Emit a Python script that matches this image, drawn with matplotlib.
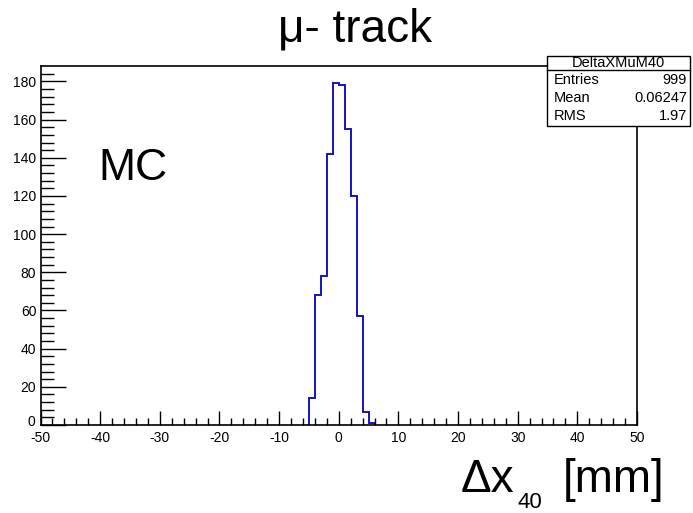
import numpy as np
import matplotlib
matplotlib.use("Agg")
import matplotlib.pyplot as plt
import matplotlib.transforms as mtransforms
from matplotlib.patches import Rectangle
from matplotlib.lines import Line2D
from matplotlib.ticker import MultipleLocator

# Data
bin_edges = [-5, -4, -3, -2, -1, 0, 1, 2, 3, 4, 5, 6]
counts = [14, 68, 78, 142, 179, 178, 155, 120, 57, 7, 1]
hist_name = "DeltaXMuM40"
stat_labels = ["Entries", "Mean", "RMS"]
stat_values = ["999", "0.06247", "1.97"]
title = "μ- track"

W, H = 693, 513
plt.rcParams['font.family'] = ['Liberation Sans', 'DejaVu Sans']
plt.rcParams['axes.unicode_minus'] = False
fig = plt.figure(figsize=(W / 100, H / 100), dpi=100)

def fx(px):
    return px / W

def fy(py):
    return 1 - py / H

ax = fig.add_axes([fx(40.5), fy(425), fx(637) - fx(40.5), fy(66.3) - fy(425)])
ax.stairs(counts, bin_edges, color='#1414c0', linewidth=1.4, baseline=0)
ax.set_xlim(-50, 50)
ax.set_ylim(0, 1.05 * max(counts))

ax.xaxis.set_major_locator(MultipleLocator(10))
ax.xaxis.set_minor_locator(MultipleLocator(2))
ax.yaxis.set_major_locator(MultipleLocator(20))
ax.yaxis.set_minor_locator(MultipleLocator(4))
ax.tick_params(axis='x', which='major', direction='in', length=10, width=1,
               labelsize=10, pad=4, top=False)
ax.tick_params(axis='x', which='minor', direction='in', length=5, width=1, top=False)
ax.tick_params(axis='y', which='major', direction='in', length=18, width=1,
               labelsize=10, pad=3, right=False)
ax.tick_params(axis='y', which='minor', direction='in', length=9, width=1, right=False)
for s in ax.spines.values():
    s.set_linewidth(1.2)

# nudge the y "0" label up a little, as ROOT draws it
fig.canvas.draw()
for lbl in ax.get_yticklabels():
    if lbl.get_text() == '0':
        lbl.set_transform(lbl.get_transform() +
                          mtransforms.ScaledTranslation(-1 / 100, 4 / 100, fig.dpi_scale_trans))

# Title
fig.text(fx(355), fy(42), title, ha='center', va='baseline', fontsize=33)
# MC label
fig.text(fx(98), fy(180), "MC", ha='left', va='baseline', fontsize=32)
# x-axis label
fig.text(fx(461), fy(492), "Δx", ha='left', va='baseline', fontsize=33)
fig.text(fx(518), fy(508), "40", ha='left', va='baseline', fontsize=16)
fig.text(fx(563), fy(492), "[mm]", ha='left', va='baseline', fontsize=33)

# Stats box
bl, br, bt, bb = 547.3, 690, 56, 126
fig.add_artist(Rectangle((fx(bl), fy(bb)), fx(br) - fx(bl), fy(bt) - fy(bb),
                         transform=fig.transFigure, facecolor='white',
                         edgecolor='black', linewidth=1.0, zorder=5))
fig.add_artist(Line2D([fx(bl), fx(br)], [fy(70), fy(70)], transform=fig.transFigure,
                      color='black', linewidth=1.0, zorder=6))
fig.text(fx((bl + br) / 2), fy(63), hist_name, ha='center', va='center',
         fontsize=10.5, zorder=7)
ys = [80, 98, 116]
for lab, val, yy in zip(stat_labels, stat_values, ys):
    fig.text(fx(554), fy(yy), lab, ha='left', va='center', fontsize=10.5, zorder=7)
    fig.text(fx(687), fy(yy), val, ha='right', va='center', fontsize=10.5, zorder=7)

fig.savefig("out.png", dpi=100)
